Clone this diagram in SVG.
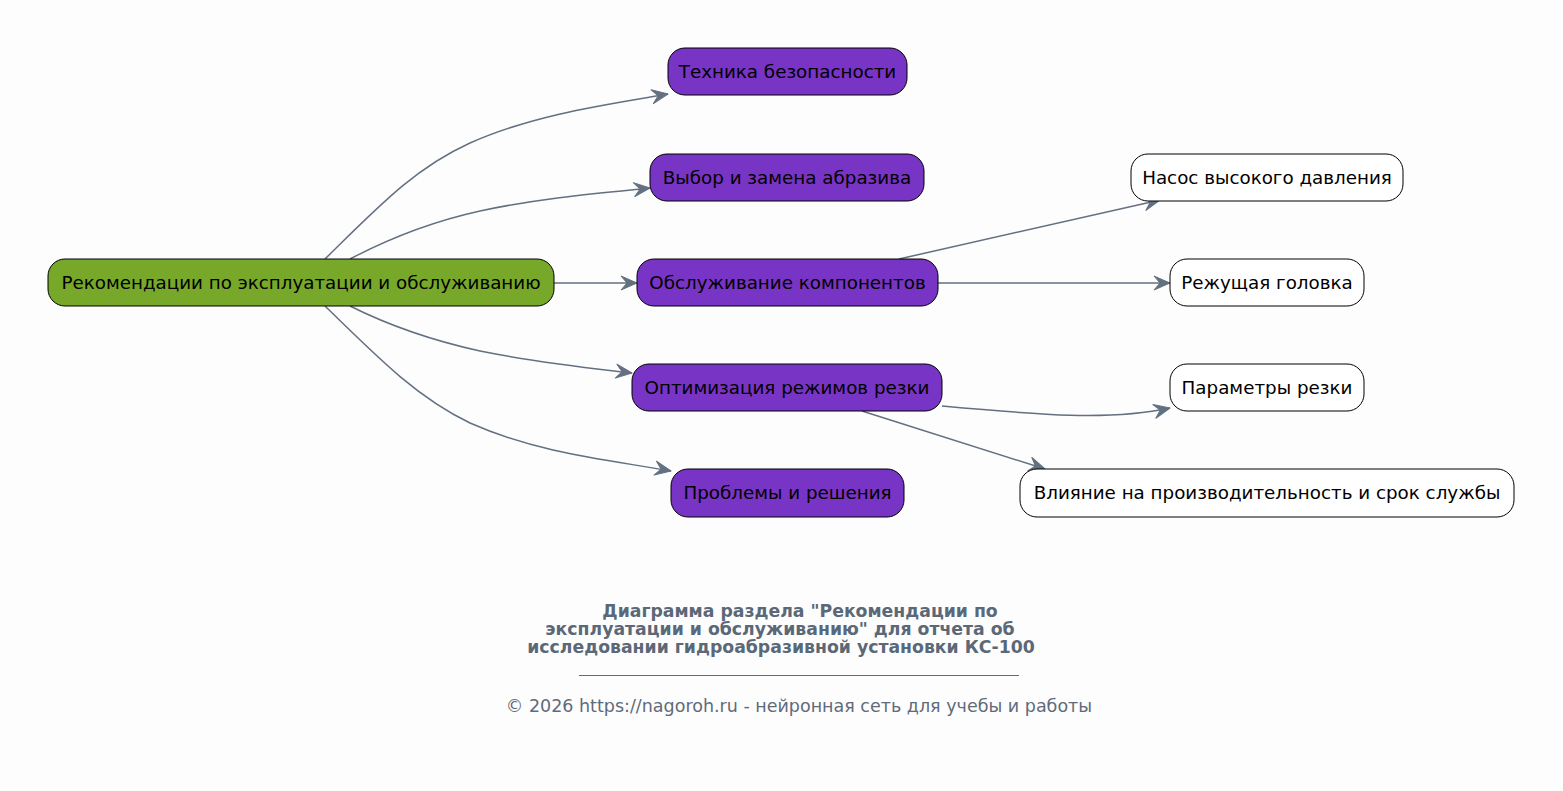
<svg xmlns="http://www.w3.org/2000/svg" width="1563" height="791" viewBox="0 0 1563 791">
<defs>
<marker id="vee" markerUnits="userSpaceOnUse" markerWidth="20" markerHeight="16" viewBox="0 0 20 16" refX="18" refY="8" orient="auto">
<path d="M2,1 L18,8 L2,15 L8,8 Z" fill="#627080" stroke="#627080" stroke-width="1" stroke-linejoin="round"/>
</marker>
<style>
.n rect{stroke:#000;stroke-width:1}
.p rect{fill:#7834c4}
.w rect{fill:#ffffff}
.g rect{fill:#78a82a}
.n text{font-family:"DejaVu Sans",sans-serif;font-size:18.3px;fill:#000;text-anchor:middle;dominant-baseline:central}
#edges path{fill:none;stroke:#627080;stroke-width:1.5;marker-end:url(#vee)}
.t{font-family:"DejaVu Sans",sans-serif;font-size:17.3px;font-weight:bold;fill:#5a6878;text-anchor:middle}
.f{font-family:"DejaVu Sans",sans-serif;font-size:17.5px;fill:#5f6b7a;text-anchor:middle}
</style>
</defs>
<rect width="1563" height="791" fill="#fdfdfd"/>
<g id="edges">
<path d="M325,259 C380,205 415,168 470,143 C535,114 610,104 668,94"/>
<path d="M350,259 C390,238 430,222 480,211 C540,198 600,193 650,188"/>
<path d="M554,283 L637,283"/>
<path d="M350,306 C390,326 430,340 480,351 C540,363 590,368 632,373"/>
<path d="M325,306 C380,360 418,398 470,423 C540,454 610,460 671,471"/>
<path d="M899,259 L1160,200"/>
<path d="M938,283 L1170,283"/>
<path d="M942,406 C1040,415 1110,421 1170,408"/>
<path d="M862,411 L1045,469"/>
</g>
<g id="root" class="n g"><rect x="48" y="259" width="506" height="47" rx="17"/><text x="301" y="282.5">Рекомендации по эксплуатации и обслуживанию</text></g>
<g id="n1" class="n p"><rect x="668" y="48" width="239" height="47" rx="17"/><text x="787.5" y="71.5">Техника безопасности</text></g>
<g id="n2" class="n p"><rect x="650" y="154" width="274" height="47" rx="17"/><text x="787" y="177.5">Выбор и замена абразива</text></g>
<g id="n3" class="n p"><rect x="637" y="259" width="301" height="47" rx="17"/><text x="787.5" y="282.5">Обслуживание компонентов</text></g>
<g id="n4" class="n p"><rect x="632" y="364" width="310" height="47" rx="17"/><text x="787" y="387.5">Оптимизация режимов резки</text></g>
<g id="n5" class="n p"><rect x="671" y="469" width="233" height="48" rx="17"/><text x="787.5" y="492.5">Проблемы и решения</text></g>
<g id="n6" class="n w"><rect x="1131" y="154" width="272" height="47" rx="17"/><text x="1267" y="177.5">Насос высокого давления</text></g>
<g id="n7" class="n w"><rect x="1170" y="259" width="194" height="47" rx="17"/><text x="1267" y="282.5">Режущая головка</text></g>
<g id="n8" class="n w"><rect x="1170" y="364" width="194" height="47" rx="17"/><text x="1267" y="387.5">Параметры резки</text></g>
<g id="n9" class="n w"><rect x="1020" y="469" width="494" height="48" rx="17"/><text x="1267" y="492.5">Влияние на производительность и срок службы</text></g>
<g id="caption">
<text class="t" x="800" y="617">Диаграмма раздела "Рекомендации по</text>
<text class="t" x="780" y="635">эксплуатации и обслуживанию" для отчета об</text>
<text class="t" x="781" y="653">исследовании гидроабразивной установки КС-100</text>
<line x1="579" y1="675.5" x2="1019" y2="675.5" stroke="#5f6b7a" stroke-width="1"/>
<text class="f" x="799" y="712">© 2026 https://nagoroh.ru - нейронная сеть для учебы и работы</text>
</g>
</svg>
